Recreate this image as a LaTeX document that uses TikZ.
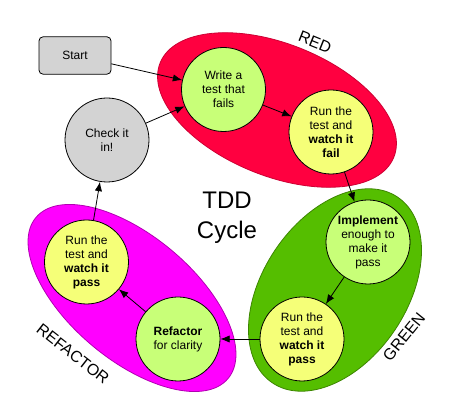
\documentclass[tikz,border=0pt]{standalone}
\usepackage{fontspec}
\setmainfont{Liberation Sans}
\usetikzlibrary{arrows.meta}

\definecolor{redzone}{RGB}{255,0,64}
\definecolor{greenzone}{RGB}{85,190,0}
\definecolor{refzone}{RGB}{255,0,255}
\definecolor{lightgreen}{RGB}{200,255,120}
\definecolor{lightyellow}{RGB}{245,255,120}
\definecolor{startgray}{RGB}{211,211,211}

\begin{document}
\begin{tikzpicture}[x=.75pt,y=-.75pt,line width=.6pt,
  stage/.style={circle,draw,minimum size=63pt,inner sep=0pt,align=center,font=\fontsize{9}{10.5}\selectfont},
  zonelabel/.style={font=\fontsize{12}{14}\selectfont},
  flow/.style={-{Latex[length=7pt,width=5.5pt]}}]
\useasboundingbox (0,0) rectangle (454,413);
% the three zones
\filldraw[fill=redzone,draw=redzone!80!black,rotate around={-22:(277,110)}] (277,110) ellipse [x radius=94.5pt,y radius=49.5pt];
\filldraw[fill=greenzone,draw=greenzone!70!black,rotate around={56:(335,290)}] (335,290) ellipse [x radius=84pt,y radius=54pt];
\filldraw[fill=refzone,draw=refzone!70!black,rotate around={-40:(132,298)}] (132,298) ellipse [x radius=94pt,y radius=46.5pt];
\node[zonelabel,rotate=-22] (redlabel) at (315,42) {RED};
\node[zonelabel,rotate=51] (greenlabel) at (404,337) {GREEN};
\node[zonelabel,rotate=-38] (reflabel) at (73,354) {REFACTOR};
% steps
\node[draw,rounded corners=3pt,fill=startgray,minimum width=54pt,minimum height=28pt,font=\fontsize{9}{10.5}\selectfont] (start) at (75,55.5) {Start};
\node[stage,fill=startgray] (checkin) at (107,140) {Check it\\in!};
\node[stage,fill=lightgreen] (write) at (223.5,89.5) {Write a\\test that\\fails};
\node[stage,fill=lightyellow] (runfail) at (331,132) {Run the\\test and\\\textbf{watch it}\\\textbf{fail}};
\node[stage,fill=lightgreen] (implement) at (368,242) {\textbf{Implement}\\enough to\\make it\\pass};
\node[stage,fill=lightyellow] (runpass) at (302,339) {Run the\\test and\\\textbf{watch it}\\\textbf{pass}};
\node[stage,fill=lightgreen] (refactor) at (178,339) {\textbf{Refactor}\\for clarity};
\node[stage,fill=lightyellow] (rerun) at (86.5,262) {Run the\\test and\\\textbf{watch it}\\\textbf{pass}};
\node[font=\fontsize{18}{22.5}\selectfont,align=center] (title) at (227,218) {TDD\\Cycle};
% connectors
\draw[flow] (start) -- (write);
\draw[flow] (checkin) -- (write);
\draw[flow] (write) -- (runfail);
\draw[flow] (runfail) -- (implement);
\draw[flow] (implement) -- (runpass);
\draw[flow] (runpass) -- (refactor);
\draw[flow] (refactor) -- (rerun);
\draw[flow] (rerun) -- (checkin);
\end{tikzpicture}
\end{document}
